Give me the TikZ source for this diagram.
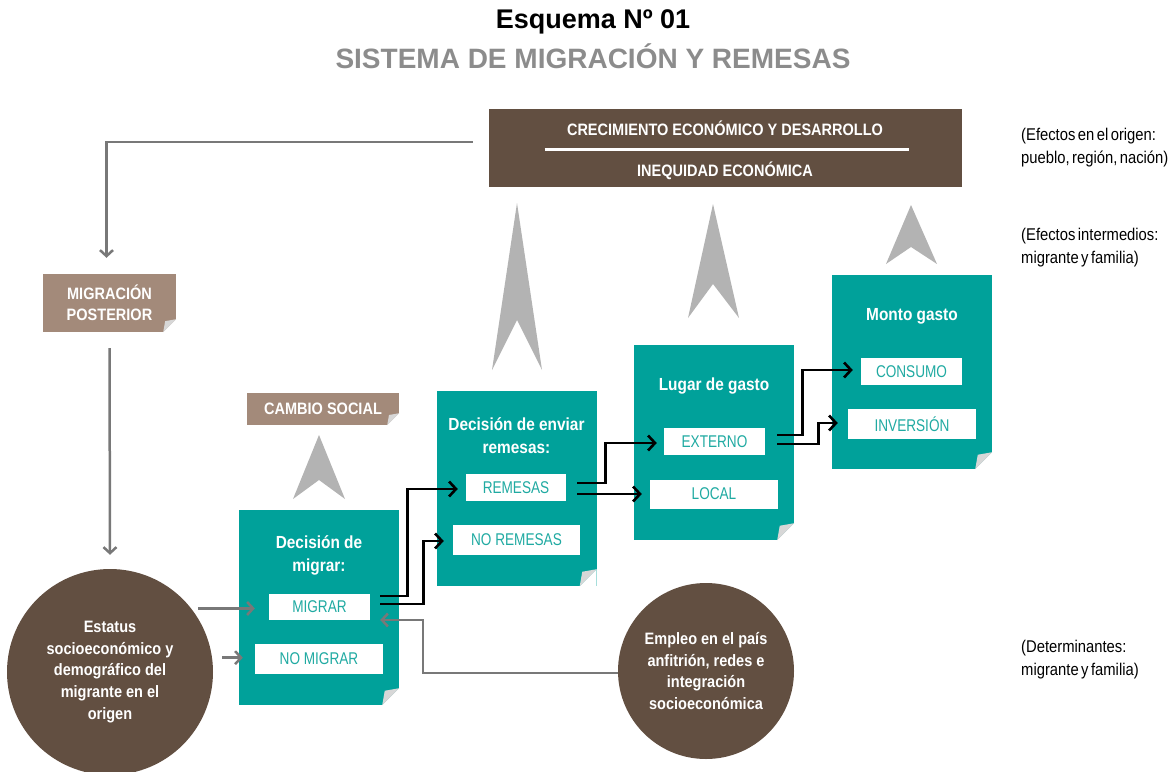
\documentclass[tikz,border=0pt]{standalone}
\usepackage{fontspec}
\setmainfont{Liberation Sans}
\newfontfamily\condr[FakeStretch=0.8]{Liberation Sans}
\newfontfamily\condb[FakeStretch=0.88]{Liberation Sans}
\newfontfamily\sider[FakeStretch=0.87,WordSpace=0.6]{Liberation Sans}
\usetikzlibrary{arrows.meta,calc}
\definecolor{tealbg}{RGB}{0,161,154}
\definecolor{tealtx}{RGB}{32,170,162}
\definecolor{brownc}{RGB}{98,79,65}
\definecolor{taupe}{RGB}{163,138,122}
\definecolor{foldg}{RGB}{215,215,215}
\definecolor{arrg}{RGB}{179,179,179}
\definecolor{lineg}{RGB}{120,120,120}
\definecolor{titleg}{RGB}{140,140,140}
\newcommand{\foldcorner}[2]{%
  \fill[white] ($(#1.south east)+(0,-#2)$) -- (#1.south east) -- ($(#1.south east)+(-#2,0)$) -- cycle;
  \fill[foldg] ($(#1.south east)+(0,-#2)$) -- ($(#1.south east)+(-#2,0)$) -- ($(#1.south east)+(-0.85*#2,-0.85*#2)$) -- cycle;}
\begin{document}
\begin{tikzpicture}[x=1pt,y=-1pt,
  tealbox/.style={fill=tealbg, minimum width=160, minimum height=195, inner sep=0},
  taupebox/.style={fill=taupe, inner sep=0, text=white, align=center,
     font=\condb\bfseries\fontsize{16.5}{21}\selectfont},
  boxtitle/.style={text=white, align=center, inner sep=0,
     font=\condb\bfseries\fontsize{17.5}{23}\selectfont},
  wbox/.style={fill=white, inner sep=0, text=tealtx,
     font=\condr\fontsize{17}{17}\selectfont},
  toptxt/.style={text=white, inner sep=0, font=\condb\bfseries\fontsize{16.5}{20}\selectfont},
  circtxt/.style={circle, fill=brownc, inner sep=0, text=white, align=center,
     font=\condb\bfseries\fontsize{16.5}{21.7}\selectfont},
  sidetxt/.style={inner sep=0, align=left, anchor=north west,
     font=\sider\fontsize{17}{23}\selectfont},
  gline/.style={draw=lineg, line width=2.5pt, -{Straight Barb[length=6pt,width=13pt]}},
  bline/.style={draw=black, line width=2.6pt, -{Straight Barb[length=7pt,width=15pt]}},
  bigarr/.style={fill=arrg}
]
\useasboundingbox (0,0) rectangle (1169,771);

% Title
\node[inner sep=0, font=\bfseries\fontsize{27}{27}\selectfont] (t1) at (593,22) {Esquema Nº 01};
\node[inner sep=0, text=titleg, font=\bfseries\fontsize{28}{28}\selectfont] (t2) at (593,56) {SISTEMA DE MIGRACIÓN Y REMESAS};

% Top box
\node[fill=brownc, minimum width=473, minimum height=78, inner sep=0] (top) at (725.5,148) {};
\node[toptxt] (topa) at (725,128) {CRECIMIENTO ECONÓMICO Y DESARROLLO};
\node[toptxt] (topb) at (725,171) {INEQUIDAD ECONÓMICA};
\draw[white, line width=3pt] ($(top.center)+(-181,1)$) -- ($(top.center)+(183,1)$);

% Side notes
\node[sidetxt] (s1) at (1021,128) {(Efectos en el origen:\\pueblo, región, nación)};
\node[sidetxt] (s2) at (1021,228) {(Efectos intermedios:\\migrante y familia)};
\node[sidetxt] (s3) at (1021,640) {(Determinantes:\\migrante y familia)};

% Migracion posterior
\node[taupebox, minimum width=133, minimum height=58] (mp) at (109.5,303) {MIGRACIÓN\\POSTERIOR};
\foldcorner{mp}{13}

% Cambio social
\node[taupebox, minimum width=152, minimum height=32] (cs) at (323,409) {CAMBIO SOCIAL};
\foldcorner{cs}{12}

% Circles
\node[circtxt, minimum size=206] (est) at (110,672) {Estatus\\socioeconómico y\\demográfico del\\migrante en el\\origen};
\node[circtxt, minimum size=176] (emp) at (706,671) {Empleo en el país\\anfitrión, redes e\\integración\\socioeconómica};

% Decision migrar
\node[tealbox] (dm) at (319,607.5) {};
\foldcorner{dm}{17}
\node[boxtitle] (dmt) at (319,555) {Decisión de\\migrar:};
\node[wbox, minimum width=101, minimum height=26] (mig) at (319.5,607) {MIGRAR};
\node[wbox, minimum width=128, minimum height=30] (nomig) at (319,659) {NO MIGRAR};

% Decision remesas
\node[tealbox] (dr) at (516.5,488.5) {};
\foldcorner{dr}{17}
\node[boxtitle] (drt) at (516.5,435.5) {Decisión de enviar\\remesas:};
\node[wbox, minimum width=100, minimum height=27] (rem) at (516,487.5) {REMESAS};
\node[wbox, minimum width=127, minimum height=30] (norem) at (516.5,540) {NO REMESAS};

% Lugar de gasto
\node[tealbox] (dl) at (714,442.5) {};
\foldcorner{dl}{17}
\node[boxtitle] (dlt) at (714,386) {Lugar de gasto};
\node[wbox, minimum width=101, minimum height=27] (ext) at (714.5,441.5) {EXTERNO};
\node[wbox, minimum width=128, minimum height=29] (loc) at (714,494) {LOCAL};

% Monto gasto
\node[tealbox, minimum height=194] (dmo) at (912,372) {};
\foldcorner{dmo}{17}
\node[boxtitle] (dmot) at (912,316) {Monto gasto};
\node[wbox, minimum width=101, minimum height=27] (cons) at (911.5,371.5) {CONSUMO};
\node[wbox, minimum width=128, minimum height=30] (inv) at (912,424) {INVERSIÓN};

% Big gray arrows
\fill[bigarr] (319,435) -- (293,499) -- (319,480) -- (345,499) -- cycle;
\fill[bigarr] (517,203) -- (492,370) -- (517,320) -- (542,370) -- cycle;
\fill[bigarr] (713,204) -- (688,318) -- (713,284) -- (739,318) -- cycle;
\fill[bigarr] (911,205) -- (886,264) -- (911,247) -- (937,264) -- cycle;

% Gray connectors
\draw[gline] ($(top.west)+(-16,-6)$) -| ($(mp.north)+(-3,-16)$);
\draw[gline] ($(mp.south)+(0,16)$) -- ($(est.north)+(0,-14)$);
\draw[gline, shorten <=7pt, shorten >=14pt] (est.38) -- (est.38 -| mig.west);
\draw[gline, shorten <=10pt, shorten >=12pt] (est.8) -- (est.8 -| nomig.west);
\draw[gline] ($(emp.west)+(0,2)$) -| ($(mig.east)+(53,13)$) -- ($(mig.east)+(10,13)$);

% Black connectors
\draw[bline] ($(mig.east)+(10,-11)$) -- ++(27,0) |- ($(rem.west)+(-8,1.5)$);
\draw[bline] ($(mig.east)+(10,-3)$) -- ++(43,0) |- ($(norem.west)+(-9,1)$);
\draw[bline] ($(rem.east)+(11,-4.5)$) -- ++(28,0) |- ($(ext.west)+(-7,1.5)$);
\draw[bline] ($(rem.east)+(11,6.5)$) -- ($(loc.west)+(-8,0)$);
\draw[bline] ($(ext.east)+(12,-6.5)$) -- ++(25,0) |- ($(cons.west)+(-8,-1.5)$);
\draw[bline] ($(ext.east)+(12,2.5)$) -- ++(41,0) |- ($(inv.west)+(-10,-1)$);
\end{tikzpicture}
\end{document}
